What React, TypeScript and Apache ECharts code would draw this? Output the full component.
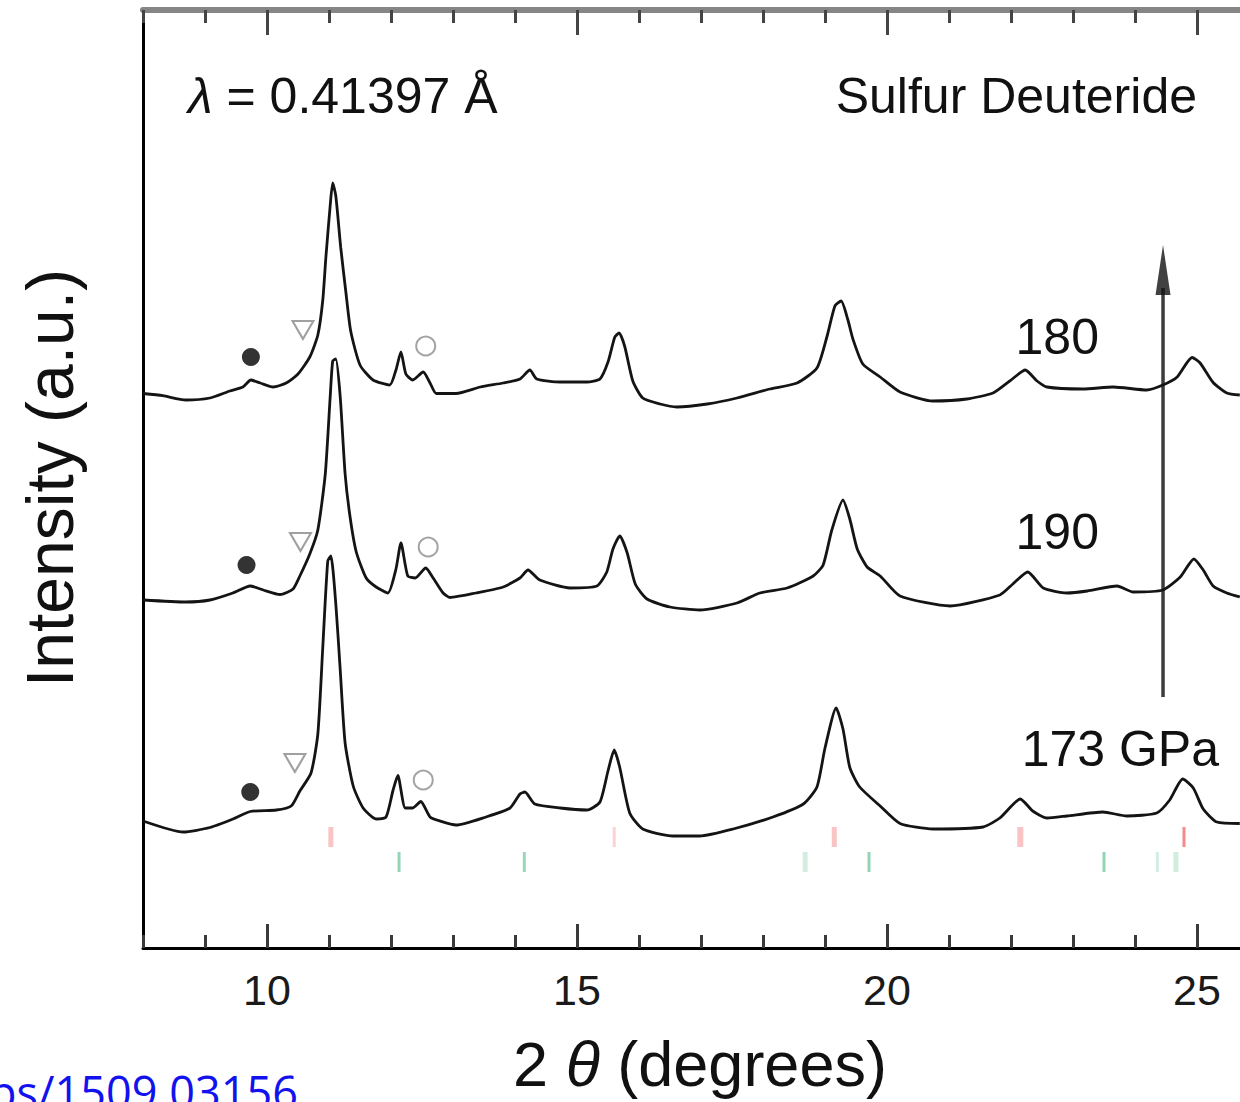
import React, { useEffect, useRef } from 'react';
import * as echarts from 'echarts';

const FONT = '"Liberation Sans", Arial, Helvetica, sans-serif';

// 2θ (degrees), intensity (a.u., relative to each pattern's own baseline)
const spectrum180: number[][] = [
  [8.0, 0.45], [8.32, 0.23], [8.69, -0.2], [9.08, 0], [9.4, 0.7], [9.61, 1.1], [9.74, 1.8], [9.89, 1.5],
  [10.1, 1.1], [10.31, 1.5], [10.5, 2.4], [10.69, 4.1], [10.82, 6.3], [10.9, 9.8], [10.95, 14.1], [11.02, 19.3],
  [11.06, 21.5], [11.11, 20.2], [11.19, 15.0], [11.27, 10.7], [11.35, 6.7], [11.5, 3.3], [11.71, 1.8], [11.98, 1.3],
  [12.08, 2.8], [12.16, 4.6], [12.24, 2.4], [12.35, 1.8], [12.52, 2.6], [12.63, 1.5], [12.73, 0.45], [13.05, 0.45],
  [13.44, 1.1], [13.81, 1.5], [14.08, 1.9], [14.24, 2.8], [14.35, 1.9], [14.73, 1.6], [15.16, 1.6], [15.37, 1.9],
  [15.5, 3.6], [15.61, 6.1], [15.68, 6.5], [15.77, 5.15], [15.9, 1.7], [16.06, 0], [16.34, -0.6], [16.61, -0.9],
  [17.1, -0.6], [17.58, 0], [18.11, 0.9], [18.55, 1.5], [18.87, 3.0], [19.03, 6.1], [19.16, 9.2], [19.26, 9.7],
  [19.37, 7.8], [19.45, 5.9], [19.61, 3.4], [19.89, 2.1], [20.21, 0.6], [20.74, -0.3], [21.29, -0.1], [21.71, 0.5],
  [21.98, 1.7], [22.23, 2.8], [22.42, 1.7], [22.58, 1.1], [23.16, 0.9], [23.65, 1.1], [24.19, 0.8], [24.45, 1.3],
  [24.68, 2.1], [24.92, 4.05], [25.05, 3.5], [25.26, 1.55], [25.48, 0.5], [25.69, 0.3],
];

const spectrum190: number[][] = [
  [8.0, -0.2], [8.69, -0.4], [9.08, -0.2], [9.45, 0.5], [9.73, 1.2], [9.94, 0.8], [10.21, 0.35], [10.42, 0.9],
  [10.53, 2.2], [10.69, 4.4], [10.82, 6.8], [10.94, 12.4], [11.02, 20.2], [11.06, 23.7], [11.11, 23.9], [11.18, 20.2],
  [11.26, 12.4], [11.34, 8.1], [11.44, 4.6], [11.6, 2.0], [11.76, 1.1], [11.95, 0.5], [12.08, 2.9], [12.16, 5.5],
  [12.27, 2.2], [12.39, 2.0], [12.56, 3.0], [12.68, 2.0], [12.84, 0.5], [12.95, 0.05], [13.37, 0.5], [13.81, 1.1],
  [14.08, 2.0], [14.21, 2.8], [14.4, 1.8], [14.89, 1.0], [15.32, 1.2], [15.48, 2.6], [15.58, 4.9], [15.69, 6.2],
  [15.81, 4.5], [15.94, 1.4], [16.13, -0.1], [16.5, -0.9], [16.98, -1.2], [17.58, -0.5], [17.95, 0.5], [18.39, 1.0],
  [18.81, 2.2], [18.97, 3.3], [19.11, 6.8], [19.29, 9.8], [19.4, 7.9], [19.52, 4.9], [19.68, 3.1], [19.89, 2.2],
  [20.21, 0.2], [21.02, -0.8], [21.82, 0.3], [22.03, 1.4], [22.27, 2.6], [22.52, 1.0], [22.9, 0.5], [23.23, 0.7],
  [23.71, 1.2], [23.97, 0.6], [24.45, 0.8], [24.73, 2.1], [24.95, 3.9], [25.1, 2.8], [25.26, 1.2], [25.48, 0.5],
  [25.69, 0.1],
];

const spectrum173: number[][] = [
  [8.0, 0.7], [8.65, -0.4], [9.08, 0.05], [9.45, 0.9], [9.73, 1.65], [10.15, 1.8], [10.39, 2.2], [10.53, 3.7],
  [10.71, 5.5], [10.82, 9.4], [10.9, 18.1], [10.98, 26.7], [11.03, 27.2], [11.11, 22.4], [11.18, 15.9], [11.26, 8.5],
  [11.39, 4.2], [11.55, 2.0], [11.76, 0.9], [11.92, 1.1], [12.03, 3.7], [12.11, 5.25], [12.23, 2.0], [12.35, 2.0],
  [12.48, 2.65], [12.63, 1.1], [12.79, 0.7], [13.05, 0.3], [13.53, 1.1], [13.92, 2.0], [14.08, 3.4], [14.16, 3.6],
  [14.32, 2.4], [14.73, 2.0], [15.16, 1.8], [15.37, 2.6], [15.5, 5.7], [15.6, 7.8], [15.69, 6.05], [15.85, 1.5],
  [16.06, -0.1], [16.55, -0.8], [16.98, -0.8], [17.52, -0.1], [18.16, 1.1], [18.65, 2.4], [18.87, 4.1], [19.0, 8.0],
  [19.18, 12.0], [19.29, 9.9], [19.4, 6.05], [19.56, 4.1], [19.89, 2.2], [20.21, 0.45], [20.74, -0.1], [21.55, 0.1],
  [21.82, 1.0], [22.15, 2.9], [22.35, 1.7], [22.58, 1.0], [22.9, 1.2], [23.48, 1.6], [23.87, 1.2], [24.35, 1.5],
  [24.56, 2.8], [24.77, 4.9], [24.94, 4.0], [25.1, 1.9], [25.32, 0.6], [25.69, 0.45],
];

// order: 180, 190, 173
const patternOffsets = [55, 35, 12];
const pressureLabels = ['180', '190', '173 GPa'];

// phase markers [2θ, intensity relative to pattern baseline], order 180, 190, 173
const filledCircleMarks: number[][] = [[9.74, 4.1], [9.67, 3.3], [9.73, 3.6]];
const triangleMarks: number[][] = [[10.58, 6.8], [10.54, 5.6], [10.45, 6.5]];
const openCircleMarks: number[][] = [[12.56, 5.2], [12.6, 5.1], [12.52, 4.8]];

// calculated reflection positions (2θ) and their relative intensity shading
const redReflections = [11.03, 15.6, 19.15, 22.15, 24.79];
const redShade = [0.38, 0.28, 0.38, 0.38, 0.75];
const redWidths = [5, 3, 5, 6, 3];
const greenReflections = [12.13, 14.15, 18.68, 19.71, 23.5, 24.36, 24.66];
const greenShade = [0.72, 0.68, 0.3, 0.72, 0.72, 0.3, 0.32];
const greenWidths = [3, 3, 5, 3, 3, 3, 5];
const redRowY = 11.1;
const greenRowY = 8.6;

// pressure arrow (2θ position, y start, y end)
const arrowX = 24.452;
const arrowY = [25.1, 66.0];
const arrowHeadY = 67.8;

const majorTicks = [10, 15, 20, 25];

export default function App() {
  const ref = useRef<HTMLDivElement>(null);

  useEffect(() => {
    if (!ref.current) return;
    const chart = echarts.init(ref.current, undefined, { renderer: 'svg' });

    const spectra = [spectrum180, spectrum190, spectrum173];
    const lineSeries = spectra.map((s, i) => ({
      type: 'line',
      name: pressureLabels[i],
      data: s.map(([x, y]) => [x, y + patternOffsets[i]]),
      showSymbol: false,
      smooth: 0.2,
      silent: true,
      lineStyle: { color: '#141414', width: 2.8 },
      z: 3,
    }));

    const markerData = (arr: number[][]) => arr.map(([x, y], i) => [x, y + patternOffsets[i]]);

    const shadeColor = (rgb: number[], a: number) =>
      `rgb(${rgb.map((c) => Math.round(255 - a * (255 - c))).join(',')})`;

    const option: any = {
      animation: false,
      backgroundColor: '#ffffff',
      grid: { left: 143, top: 10, width: 1116, height: 938, containLabel: false },
      xAxis: [
        {
          type: 'value', min: 8, max: 26, interval: 1, position: 'bottom',
          splitLine: { show: false },
          axisLine: { onZero: false, lineStyle: { color: '#000', width: 3 } },
          axisTick: { inside: true, length: 13, lineStyle: { color: '#3a3a3a', width: 3 } },
          axisLabel: {
            formatter: (v: number) => (majorTicks.includes(Math.round(v)) ? String(Math.round(v)) : ''),
            fontSize: 43, fontFamily: FONT, color: '#1a1a1a', margin: 20,
          },
        },
        {
          type: 'value', min: 8, max: 26, position: 'bottom',
          splitLine: { show: false },
          axisLine: { show: false, onZero: false },
          axisTick: { inside: true, length: 24, customValues: majorTicks, lineStyle: { color: '#3a3a3a', width: 3 } },
          axisLabel: { show: false },
        },
        {
          type: 'value', min: 8, max: 26, interval: 1, position: 'top',
          splitLine: { show: false },
          axisLine: { onZero: false, lineStyle: { color: '#868686', width: 6 } },
          axisTick: { inside: true, length: 13, lineStyle: { color: '#444', width: 3 } },
          axisLabel: { show: false },
        },
        {
          type: 'value', min: 8, max: 26, position: 'top',
          splitLine: { show: false },
          axisLine: { show: false, onZero: false },
          axisTick: { inside: true, length: 25, customValues: majorTicks, lineStyle: { color: '#444', width: 3 } },
          axisLabel: { show: false },
        },
      ],
      yAxis: {
        type: 'value', min: 0, max: 93.8,
        splitLine: { show: false },
        axisLine: { show: true, onZero: false, lineStyle: { color: '#000', width: 3 } },
        axisTick: { show: false },
        axisLabel: { show: false },
      },
      series: [
        ...lineSeries,
        {
          type: 'scatter', silent: true, z: 4,
          data: markerData(filledCircleMarks),
          symbol: 'circle', symbolSize: 18,
          itemStyle: { color: '#000' },
        },
        {
          type: 'scatter', silent: true, z: 4,
          data: markerData(triangleMarks),
          symbol: 'triangle', symbolRotate: 180, symbolSize: [21, 18],
          itemStyle: { color: 'rgba(255,255,255,0)', borderColor: '#888', borderWidth: 2 },
        },
        {
          type: 'scatter', silent: true, z: 4,
          data: markerData(openCircleMarks),
          symbol: 'circle', symbolSize: 19,
          itemStyle: { color: 'rgba(255,255,255,0)', borderColor: '#8c8c8c', borderWidth: 2 },
        },
        {
          type: 'scatter', silent: true, z: 2,
          symbol: 'rect',
          data: redReflections.map((x, i) => ({
            value: [x, redRowY],
            symbolSize: [redWidths[i], 20],
            itemStyle: { color: shadeColor([236, 60, 60], redShade[i]) },
          })),
        },
        {
          type: 'scatter', silent: true, z: 2,
          symbol: 'rect',
          data: greenReflections.map((x, i) => ({
            value: [x, greenRowY],
            symbolSize: [greenWidths[i], 20],
            itemStyle: { color: shadeColor([70, 182, 128], greenShade[i]) },
          })),
        },
        {
          type: 'line', silent: true, showSymbol: false, z: 2,
          data: [[arrowX, arrowY[0]], [arrowX, arrowY[1]]],
          lineStyle: { color: '#3c3c3c', width: 3.5 },
        },
        {
          type: 'scatter', silent: true, z: 2,
          data: [[arrowX, arrowHeadY]],
          symbol: 'triangle', symbolSize: [15, 50],
          itemStyle: { color: '#111' },
        },
      ],
      graphic: [
        {
          type: 'text', x: 188, y: 96,
          style: {
            text: '{i|λ} = 0.41397 Å',
            fontSize: 50, fontFamily: FONT, fill: '#111',
            align: 'left', verticalAlign: 'middle',
            rich: { i: { fontSize: 50, fontFamily: FONT, fontStyle: 'italic', fill: '#111' } },
          },
        },
        {
          type: 'text', x: 1197, y: 96,
          style: { text: 'Sulfur Deuteride', fontSize: 50, fontFamily: FONT, fill: '#111', align: 'right', verticalAlign: 'middle' },
        },
        {
          type: 'text', x: 1099, y: 337,
          style: { text: pressureLabels[0], fontSize: 50, fontFamily: FONT, fill: '#111', align: 'right', verticalAlign: 'middle' },
        },
        {
          type: 'text', x: 1099, y: 532,
          style: { text: pressureLabels[1], fontSize: 50, fontFamily: FONT, fill: '#111', align: 'right', verticalAlign: 'middle' },
        },
        {
          type: 'text', x: 1219, y: 749,
          style: { text: pressureLabels[2], fontSize: 50, fontFamily: FONT, fill: '#111', align: 'right', verticalAlign: 'middle' },
        },
        {
          type: 'text', x: 50, y: 478, rotation: Math.PI / 2,
          style: { text: 'Intensity (a.u.)', fontSize: 66, fontFamily: FONT, fill: '#111', align: 'center', verticalAlign: 'middle' },
        },
        {
          type: 'text', x: 700, y: 1064,
          style: {
            text: '{n|2 }{i|θ}{n| (degrees)}',
            fontSize: 63, fontFamily: FONT, fill: '#111',
            align: 'center', verticalAlign: 'middle',
            rich: {
              n: { fontSize: 63, fontFamily: FONT, fill: '#111' },
              i: { fontSize: 63, fontFamily: FONT, fontStyle: 'italic', fill: '#111' },
            },
          },
        },
        {
          type: 'text', x: -11, y: 1091,
          style: {
            text: 'ps/1509.03156', fontSize: 45, fontFamily: '"Open Sans", "Noto Sans", sans-serif',
            fill: '#1212ee', align: 'left', verticalAlign: 'middle',
          },
        },
      ],
    };

    chart.setOption(option);
    return () => chart.dispose();
  }, []);

  return (
    <div style={{ position: 'absolute', left: 0, top: 0, width: 1240, height: 1102, overflow: 'hidden', background: '#fff' }}>
      <div ref={ref} style={{ width: 1300, height: 1102 }} />
    </div>
  );
}
